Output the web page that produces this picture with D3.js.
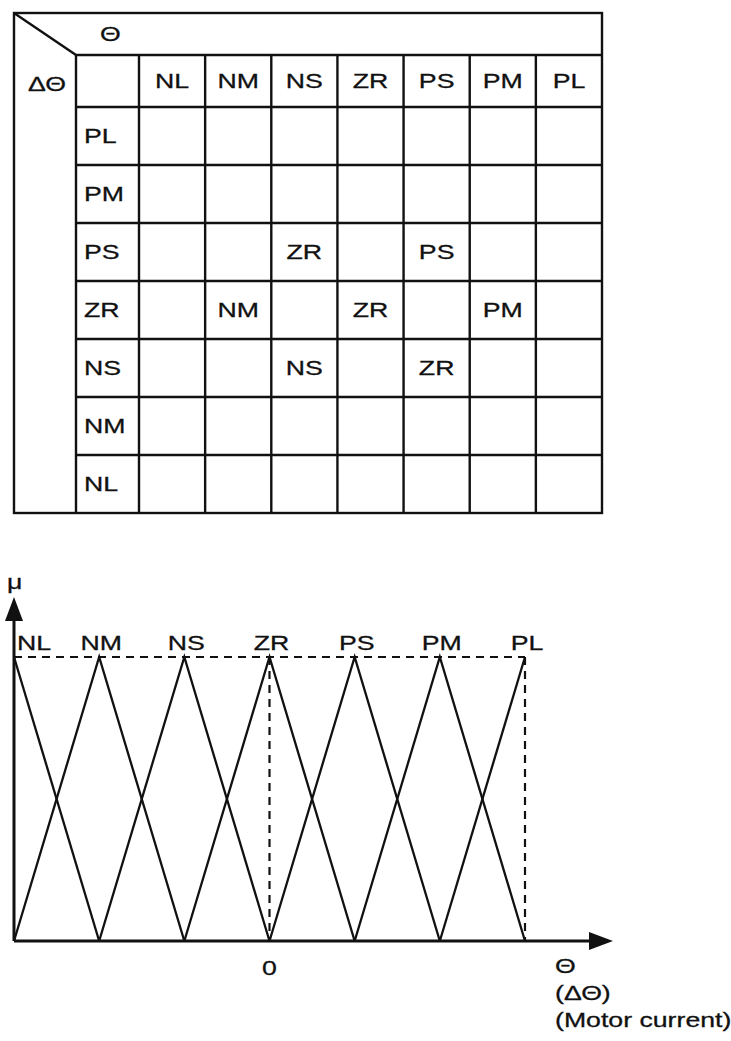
<!DOCTYPE html>
<html>
<head>
<meta charset="utf-8">
<script src="https://cdn.jsdelivr.net/npm/d3@7"></script>
<style>
  html, body { margin: 0; padding: 0; background: #fff; }
  svg { display: block; }
  text { font-family: "Liberation Sans", Arial, Helvetica, sans-serif; fill: #111; stroke: #111; stroke-width: 0.3px; }
</style>
</head>
<body>
<svg id="chart" width="731" height="1041"></svg>
<script>
// ---------- data ----------
const thetaCols = ["NL", "NM", "NS", "ZR", "PS", "PM", "PL"];
const dThetaRows = ["PL", "PM", "PS", "ZR", "NS", "NM", "NL"];
const ruleRows = ["PS", "PS", "ZR", "ZR", "ZR", "NS", "NS"];
const ruleCols = ["NS", "PS", "NM", "ZR", "PM", "NS", "PS"];
const ruleOut  = ["ZR", "PS", "NM", "ZR", "PM", "NS", "ZR"];

const fuzzySets = ["NL", "NM", "NS", "ZR", "PS", "PM", "PL"];
const setCenters = [-3, -2, -1, 0, 1, 2, 3];
const xTickValues = [0];
const xTickLabels = ["0"];
const xAxisLabels = ["\u0398", "(\u0394\u0398)", "(Motor current)"];
const yAxisLabel = "\u03bc";

// ---------- helpers ----------
const svg = d3.select("#chart");
const FS = 21, SX = 1.27;
function label(g, x, y, str, anchor) {
  return g.append("text")
    .attr("transform", `translate(${x},${y}) scale(${SX},1)`)
    .attr("text-anchor", anchor || "middle")
    .attr("dominant-baseline", "central")
    .attr("font-size", FS)
    .text(str);
}

// ---------- table ----------
const T = { left: 14, top: 13, right: 602, bottom: 513, headBottom: 55, innerLeft: 76, colStart: 139, colHeadBottom: 107 };
const tbl = svg.append("g");
const colX = d3.scaleBand().domain(thetaCols).range([T.colStart, T.right]);
const rowY = d3.scaleBand().domain(dThetaRows).range([T.colHeadBottom, T.bottom]);

const lineStyle = s => s.attr("stroke", "#111").attr("stroke-width", 2.4).attr("fill", "none");

// outer border
tbl.append("rect").attr("x", T.left).attr("y", T.top)
  .attr("width", T.right - T.left).attr("height", T.bottom - T.top).call(lineStyle);
// diagonal
tbl.append("line").attr("x1", T.left).attr("y1", T.top).attr("x2", T.innerLeft).attr("y2", T.headBottom).call(lineStyle);
// header bottom line
tbl.append("line").attr("x1", T.innerLeft).attr("y1", T.headBottom).attr("x2", T.right).attr("y2", T.headBottom).call(lineStyle);
// inner left vertical
tbl.append("line").attr("x1", T.innerLeft).attr("y1", T.headBottom).attr("x2", T.innerLeft).attr("y2", T.bottom).call(lineStyle);
// column lines
tbl.selectAll("line.col").data(thetaCols).join("line").attr("class", "col")
  .attr("x1", d => colX(d)).attr("x2", d => colX(d))
  .attr("y1", T.headBottom).attr("y2", T.bottom).call(lineStyle);
// row lines
tbl.selectAll("line.row").data(dThetaRows).join("line").attr("class", "row")
  .attr("x1", T.innerLeft).attr("x2", T.right)
  .attr("y1", d => rowY(d)).attr("y2", d => rowY(d)).call(lineStyle);

// header labels
label(tbl, 100, 34, "\u0398", "start");
label(tbl, 28, 84, "\u0394\u0398", "start");
thetaCols.forEach(c => label(tbl, colX(c) + colX.bandwidth() / 2, (T.headBottom + T.colHeadBottom) / 2, c));
dThetaRows.forEach(r => label(tbl, T.innerLeft + 8, rowY(r) + rowY.bandwidth() / 2, r, "start"));
ruleOut.forEach((o, i) => label(tbl, colX(ruleCols[i]) + colX.bandwidth() / 2, rowY(ruleRows[i]) + rowY.bandwidth() / 2, o));

// ---------- membership chart ----------
const x = d3.scaleLinear().domain([-3, 3]).range([14, 525]);
const y = d3.scaleLinear().domain([0, 1]).range([941, 657]);
const ch = svg.append("g");
const line = d3.line().x(d => x(d[0])).y(d => y(d[1]));

// dashed guides
const dash = s => s.attr("stroke", "#111").attr("stroke-width", 2.2).attr("stroke-dasharray", "8,6").attr("fill", "none");
ch.append("path").attr("d", line([[-3, 1], [3, 1]])).call(dash);
ch.append("path").attr("d", line([[0, 1], [0, 0]])).call(dash);
ch.append("path").attr("d", line([[3, 1], [3, 0]])).call(dash);

// triangles
fuzzySets.forEach((s, i) => {
  const c = setCenters[i];
  const pts = [];
  if (i > 0) pts.push([setCenters[i - 1], 0]);
  pts.push([c, 1]);
  if (i < fuzzySets.length - 1) pts.push([setCenters[i + 1], 0]);
  ch.append("path").attr("d", line(pts)).attr("stroke", "#111").attr("stroke-width", 2.3).attr("fill", "none").attr("stroke-linejoin", "miter");
  const lx = i === 0 ? x(c) + 3 : x(c) + 2;
  label(ch, lx, 643, s, i === 0 ? "start" : "middle");
});

// axes
const axisEndX = 613, axisTopY = 597;
ch.append("line").attr("x1", x(-3)).attr("y1", y(0)).attr("x2", axisEndX - 20).attr("y2", y(0)).attr("stroke", "#111").attr("stroke-width", 3);
ch.append("line").attr("x1", x(-3)).attr("y1", y(0)).attr("x2", x(-3)).attr("y2", axisTopY + 18).attr("stroke", "#111").attr("stroke-width", 3);
ch.append("path").attr("d", `M${axisEndX},${y(0)} L${axisEndX - 24},${y(0) - 9} L${axisEndX - 24},${y(0) + 9} Z`).attr("fill", "#111");
ch.append("path").attr("d", `M${x(-3)},${axisTopY} L${x(-3) - 9},${axisTopY + 24} L${x(-3) + 9},${axisTopY + 24} Z`).attr("fill", "#111");

// ticks labels
xTickValues.forEach((v, i) => label(ch, x(v), 968, xTickLabels[i]));
label(ch, 7, 582, yAxisLabel, "start");
xAxisLabels.forEach((t, i) => label(ch, 555, 966 + i * 27, t, "start"));
</script>
</body>
</html>
